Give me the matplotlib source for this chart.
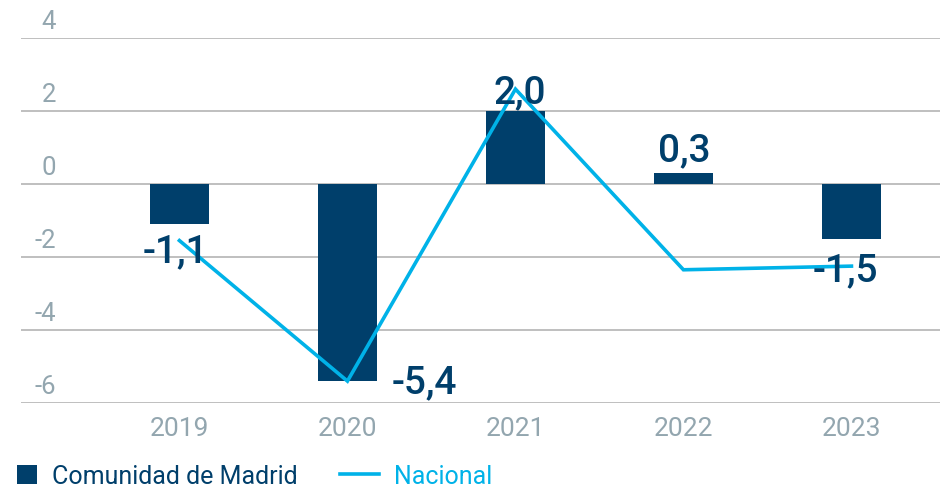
import matplotlib
matplotlib.use("Agg")
import matplotlib.pyplot as plt
from matplotlib.patches import Patch
from matplotlib.lines import Line2D
from matplotlib.transforms import offset_copy, blended_transform_factory

years = ["2019", "2020", "2021", "2022", "2023"]
madrid = [-1.1, -5.4, 2.0, 0.3, -1.5]
nacional = [-1.55, -5.4, 2.6, -2.35, -2.25]
madrid_labels = ["-1,1", "-5,4", "2,0", "0,3", "-1,5"]
yticks = [-6, -4, -2, 0, 2, 4]
ytick_labels = ["-6", "-4", "-2", "0", "2", "4"]

# label offsets in pixels (dx, dy) relative to bar end
label_offsets = [(-4, -37), (77, -11), (4, 9), (1, 13), (-6, -42)]

BAR = "#003f6b"
LINE = "#00b2e8"
TICK = "#93a6af"
GRID = "#b4b4b4"

plt.rcParams['font.family'] = ['Roboto', 'DejaVu Sans']

fig = plt.figure(figsize=(9.44, 4.89), dpi=100)
ax = fig.add_axes([21/944, 1-404/489, 919/944, 365/489])

x = list(range(len(years)))
ax.bar(x, madrid, width=0.351, color=BAR, zorder=2)
ax.plot(x, nacional, color=LINE, lw=2.6, zorder=3, solid_joinstyle='miter')

ax.set_xlim(-0.943, 4.527)
ax.set_ylim(-6, 4)
ax.set_yticks(yticks)
ax.yaxis.grid(True, color=GRID, lw=1.2, zorder=0)
ax.tick_params(axis='y', length=0, labelleft=False)
for s in ax.spines.values():
    s.set_visible(False)

# y tick labels above gridlines
tr = offset_copy(blended_transform_factory(ax.transAxes, ax.transData), fig=fig, x=0, y=10, units='dots')
for v, t in zip(yticks, ytick_labels):
    ax.text((56-21)/919, v, t, transform=tr, ha='right', va='baseline',
            fontsize=18.5, color=TICK)

ax.set_xticks(x)
ax.set_xticklabels(years, fontsize=19, color=TICK)
ax.tick_params(axis='x', length=0, pad=9)

for i, (v, lab) in enumerate(zip(madrid, madrid_labels)):
    dx, dy = label_offsets[i]
    ax.annotate(lab, (i, v), xytext=(dx, dy), textcoords='offset pixels',
                ha='center', va='baseline', fontsize=28, fontweight='medium',
                color=BAR, zorder=4)

leg1 = fig.legend(handles=[Patch(facecolor=BAR, edgecolor='none')],
                  labels=["Comunidad de Madrid"], loc='center left',
                  bbox_to_anchor=(17/944, 1-477/489), frameon=False,
                  fontsize=18, handlelength=0.81, handleheight=0.81,
                  handletextpad=0.6, borderpad=0, borderaxespad=0)
for t in leg1.get_texts():
    t.set_color(BAR)
leg2 = fig.legend(handles=[Line2D([0], [0], color=LINE, lw=2.6)],
                  labels=["Nacional"], loc='center left',
                  bbox_to_anchor=(340/944, 1-477/489), frameon=False,
                  fontsize=18, handlelength=1.54,
                  handletextpad=0.63, borderpad=0, borderaxespad=0)
for t in leg2.get_texts():
    t.set_color(LINE)

fig.savefig("out.png", dpi=100)
